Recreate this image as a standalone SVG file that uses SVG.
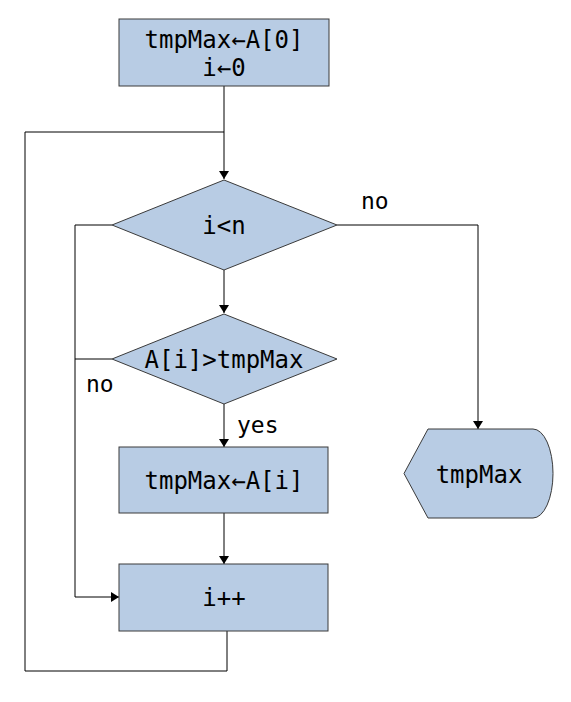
<svg xmlns="http://www.w3.org/2000/svg" width="571" height="702" viewBox="0 0 571 702">
<style>
.node{fill:#b8cce4;stroke:#3a3a3a;stroke-width:1}
.t{font-family:"DejaVu Sans Mono",monospace;font-size:24px;fill:#000;text-anchor:middle}
.lbl{font-family:"DejaVu Sans Mono",monospace;font-size:23px;fill:#000}
.c{fill:none;stroke:#000;stroke-width:1}
</style>
<defs>
<marker id="ah" viewBox="0 0 8 10" refX="8" refY="5" markerWidth="8" markerHeight="10" markerUnits="userSpaceOnUse" orient="auto">
<path d="M0,0 L8,5 L0,10 Z" fill="#000"/>
</marker>
</defs>
<rect width="571" height="702" fill="#fff"/>
<g id="connectors">
<path class="c" d="M224,86 V179" marker-end="url(#ah)"/>
<path class="c" d="M227,631 V671 H25 V132 H224"/>
<path class="c" d="M224,270 V313" marker-end="url(#ah)"/>
<path class="c" d="M224,404 V447" marker-end="url(#ah)"/>
<path class="c" d="M224,513 V564" marker-end="url(#ah)"/>
<path class="c" d="M112,225 H75 V597 H119" marker-end="url(#ah)"/>
<path class="c" d="M112,359 H75"/>
<path class="c" d="M337,225 H478 V429" marker-end="url(#ah)"/>
<text class="lbl" x="361" y="209">no</text>
<text class="lbl" x="86" y="392">no</text>
<text class="lbl" x="237" y="433">yes</text>
</g>
<g id="init">
<rect class="node" x="119" y="19" width="210" height="67"/>
<text class="t" x="224" y="48">tmpMax←A[0]</text>
<text class="t" x="224" y="76">i←0</text>
</g>
<g id="cond1">
<polygon class="node" points="224,180 337,225 224,270 112,225"/>
<text class="t" x="224" y="234">i&lt;n</text>
</g>
<g id="cond2">
<polygon class="node" points="224,314 337,359 224,404 112,359"/>
<text class="t" x="224" y="368">A[i]&gt;tmpMax</text>
</g>
<g id="assign">
<rect class="node" x="119" y="447" width="209" height="66"/>
<text class="t" x="224" y="489">tmpMax←A[i]</text>
</g>
<g id="incr">
<rect class="node" x="119" y="564" width="209" height="67"/>
<text class="t" x="224" y="606">i++</text>
</g>
<g id="output">
<path class="node" d="M428,429 H533 A20,44.5 0 0 1 533,518 H428 L404,473.5 Z"/>
<text class="t" x="479" y="483">tmpMax</text>
</g>
</svg>
